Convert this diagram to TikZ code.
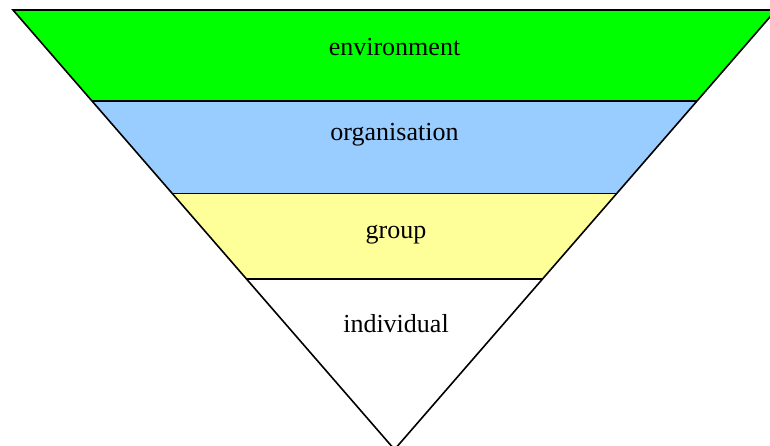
\documentclass[tikz,border=0pt]{standalone}
\usepackage{fontspec}
\setmainfont{Liberation Serif}
\begin{document}
\begin{tikzpicture}[x=1pt,y=1pt,
  layer/.style={draw=black,line width=1.6pt,line join=miter},
  lbl/.style={anchor=base,inner sep=0pt,font=\fontsize{26}{30}\selectfont}]
\useasboundingbox (0,0) rectangle (770,445);
\coordinate (tl) at (13,435);
\coordinate (tr) at (776,435);
\coordinate (al) at (92,344);
\coordinate (ar) at (697,344);
\coordinate (bl) at (172.5,251.5);
\coordinate (br) at (616.5,251.5);
\coordinate (cl) at (246.5,166);
\coordinate (cr) at (542.5,166);
\coordinate (apex) at (394.5,-4.5);
\fill[fill={rgb,255:red,0;green,255;blue,0}] (tl) -- (tr) -- (ar) -- (al) -- cycle;
\fill[fill={rgb,255:red,153;green,204;blue,255}] (al) -- (ar) -- (br) -- (bl) -- cycle;
\fill[fill={rgb,255:red,255;green,255;blue,153}] (bl) -- (br) -- (cr) -- (cl) -- cycle;
\fill[white] (cl) -- (cr) -- (apex) -- cycle;
\draw[layer] (tl) -- (tr) -- (apex) -- cycle;
\draw[layer] (al) -- (ar);
\draw[layer] (bl) -- (br);
\draw[layer] (cl) -- (cr);
\node[lbl] (env) at (394.5,389) {environment};
\node[lbl] (org) at (394.5,304) {organisation};
\node[lbl] (grp) at (396,207) {group};
\node[lbl] (ind) at (396,113) {individual};
\end{tikzpicture}
\end{document}
